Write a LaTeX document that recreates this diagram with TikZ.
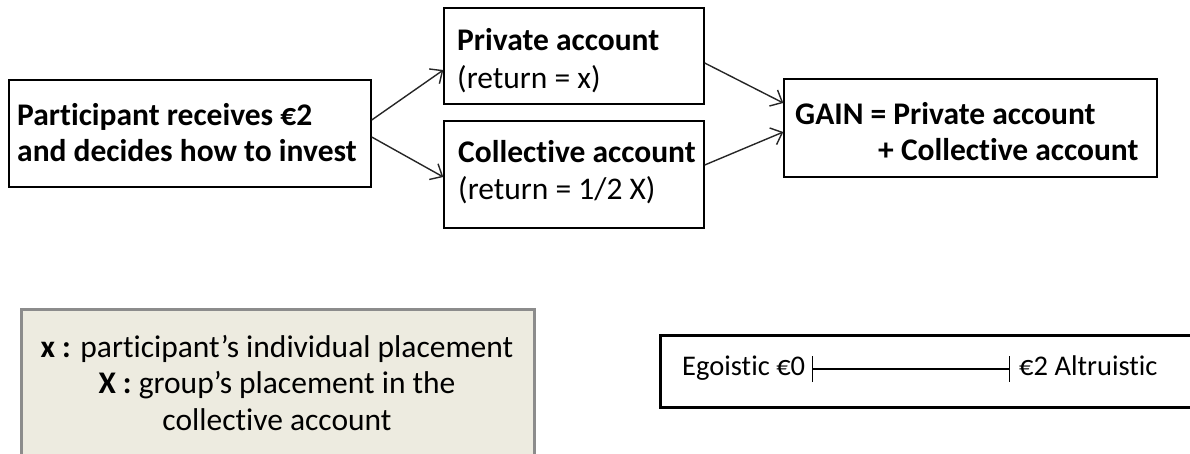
\documentclass[tikz,border=0pt]{standalone}
\usepackage{fontspec}
\setmainfont{Carlito}[Ligatures=CommonOff]
\usetikzlibrary{arrows.meta}
\definecolor{legfill}{HTML}{EDEBE0}
\definecolor{legdraw}{HTML}{8C8C8C}
\tikzset{
  x=1pt, y=-1pt,
  box/.style={draw=black, line width=1.4pt, inner sep=0pt, minimum width=#1},
  txt/.style={anchor=base west, inner sep=0pt, font=\fontsize{31.5}{37}\selectfont},
  btxt/.style={txt, font=\fontsize{31.5}{37}\selectfont\bfseries},
  stxt/.style={txt, font=\fontsize{28.5}{34}\selectfont},
  ctxt/.style={anchor=base, inner sep=0pt, font=\fontsize{31.5}{37}\selectfont},
  link/.style={draw=black!85, line width=1.4pt, -{Straight Barb[length=10pt,width=18pt,line width=1.4pt]}},
}
\begin{document}
\begin{tikzpicture}
\useasboundingbox (0,0) rectangle (1190,453);
\clip (0,0) rectangle (1190,453);
% main boxes
\node[box=362pt, minimum height=107pt] (A) at (190,133.5) {};
\node[box=260pt, minimum height=96pt] (P) at (574,56) {};
\node[box=260pt, minimum height=107pt] (C) at (574,174.5) {};
\node[box=373pt, minimum height=98pt] (G) at (970.5,128) {};
% texts
\node[btxt] (a1) at (17,125) {Participant receives €2};
\node[btxt] (a2) at (17,161) {and decides how to invest};
\node[btxt] (p1) at (457,50) {Private account};
\node[txt] (p2) at (457,88) {(return = x)};
\node[btxt] (c1) at (458,162) {Collective account};
\node[txt] (c2) at (458,199) {(return = 1/2 X)};
\node[btxt] (g1) at (795,124) {GAIN = Private account};
\node[btxt] (g2) at (878,160) {+ Collective account};
% connectors
\draw[link] ([yshift=13.5pt]A.east) -- ([yshift=-14pt]P.west);
\draw[link] ([yshift=-3.5pt]A.east) -- ([yshift=-2.5pt]C.west);
\draw[link] ([yshift=-7pt]P.east) -- ([yshift=25pt]G.west);
\draw[link] ([yshift=9.5pt]C.east) -- ([yshift=-4pt]G.west);
% legend box
\draw[fill=legfill, draw=legdraw, line width=3pt] (21,309) rectangle (534,470);
\node[ctxt] (l1) at (277,357) {\textbf{x :} participant’s individual placement};
\node[ctxt] (l2) at (277,393) {\textbf{X :} group’s placement in the};
\node[ctxt] (l3) at (277,430) {collective account};
% scale box
\draw[draw=black, line width=3pt] (660,335) rectangle (1200,407);
\node[stxt] (eg) at (682,375) {Egoistic €0};
\node[stxt] (al) at (1019,375) {€2 Altruistic};
\coordinate (s0) at (812,369);
\coordinate (s2) at (1010,369);
\draw[line width=1.4pt, {Bar[width=26pt,line width=1.4pt]}-{Bar[width=26pt,line width=1.4pt]}] (s0) -- (s2);
\end{tikzpicture}
\end{document}
